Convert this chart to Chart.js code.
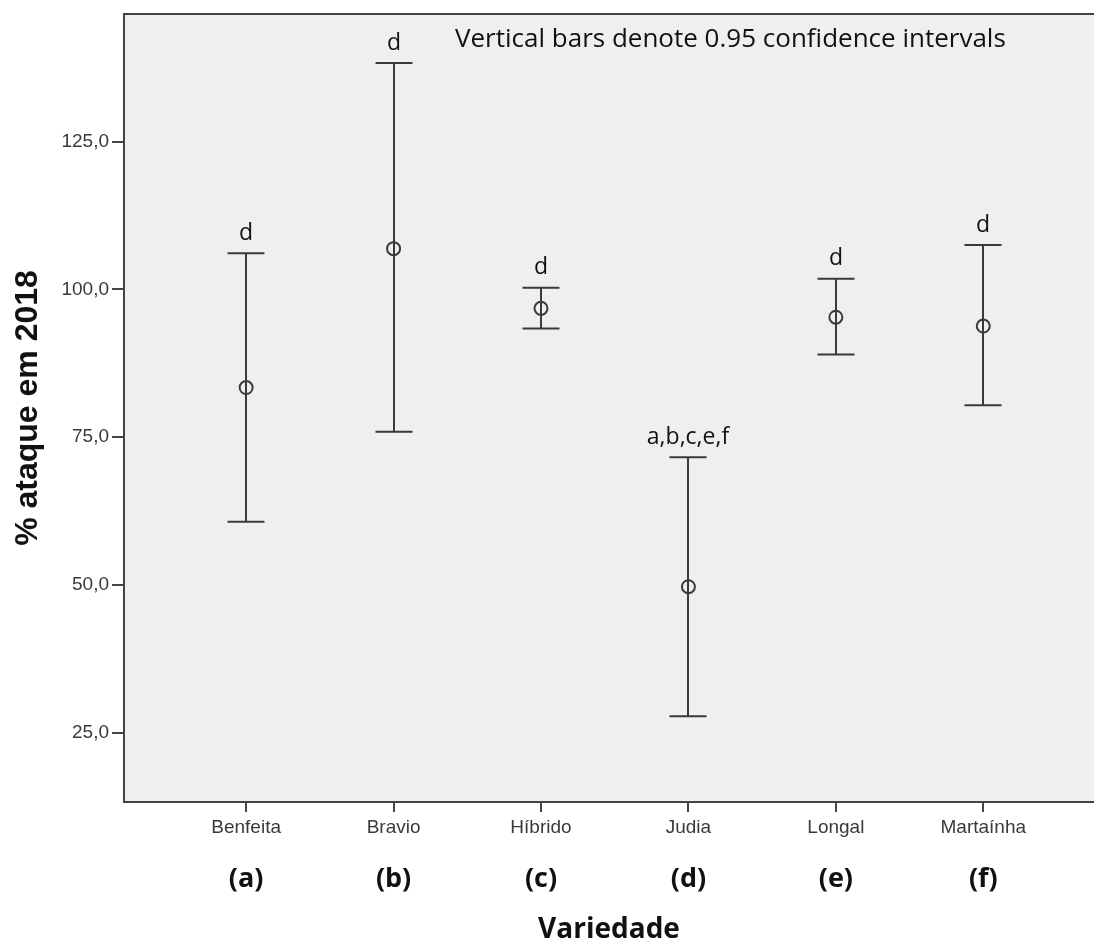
<!DOCTYPE html>
<html><head><meta charset="utf-8">
<script src="https://cdn.jsdelivr.net/npm/chart.js@4.4.0/dist/chart.umd.min.js"></script>
<style>html,body{margin:0;padding:0;background:#fff;} canvas{display:block;}</style>
</head><body>
<canvas id="c" width="1094" height="947"></canvas>
<script>
const categories = ['Benfeita', 'Bravio', 'Híbrido', 'Judia', 'Longal', 'Martaínha'];
const groupLetters = ['(a)', '(b)', '(c)', '(d)', '(e)', '(f)'];
const meanValues = [83.4, 106.9, 96.8, 49.7, 95.3, 93.8];
const lowerCI = [60.7, 75.9, 93.4, 27.8, 89.0, 80.4];
const upperCI = [106.1, 138.3, 100.3, 71.6, 101.8, 107.5];
const sigLabels = ['d', 'd', 'd', 'a,b,c,e,f', 'd', 'd'];
const yTickValues = [25, 50, 75, 100, 125];
const yRange = [13.27, 146.6];
const xRange = [0.1715, 6.751];

const INK = '#3a3a3a';
const AXIS = '#444444';

const points = meanValues.map((v, i) => ({ x: i + 1, y: v }));

const decor = {
  id: 'decor',
  beforeDraw(chart) {
    const { ctx, chartArea: a } = chart;
    ctx.save();
    ctx.fillStyle = '#efefef';
    ctx.fillRect(a.left, a.top, a.right - a.left, a.bottom - a.top);
    ctx.restore();
  },
  beforeDatasetsDraw(chart) {
    const { ctx } = chart;
    const xs = chart.scales.x, ys = chart.scales.y;
    ctx.save();
    ctx.strokeStyle = INK;
    ctx.lineWidth = 2;
    ctx.lineCap = 'butt';
    const half = 18.5;
    categories.forEach((c, i) => {
      const x = Math.round(xs.getPixelForValue(i + 1));
      const yt = ys.getPixelForValue(upperCI[i]);
      const yb = ys.getPixelForValue(lowerCI[i]);
      ctx.beginPath();
      ctx.moveTo(x, yt); ctx.lineTo(x, yb);
      ctx.moveTo(x - half, yt); ctx.lineTo(x + half, yt);
      ctx.moveTo(x - half, yb); ctx.lineTo(x + half, yb);
      ctx.stroke();
      ctx.fillStyle = '#111';
      ctx.font = '23px "Open Sans"';
      ctx.textAlign = 'center';
      ctx.textBaseline = 'middle';
      ctx.fillText(sigLabels[i], x, yt - 20);
    });
    ctx.restore();
  },
  afterDraw(chart) {
    const { ctx, chartArea: a } = chart;
    const xs = chart.scales.x;
    ctx.save();
    ctx.strokeStyle = AXIS;
    ctx.lineWidth = 2;
    ctx.beginPath();
    ctx.moveTo(a.left - 1, a.top);
    ctx.lineTo(a.right, a.top);
    ctx.stroke();
    ctx.fillStyle = '#111';
    ctx.font = '26px "Open Sans"';
    ctx.textAlign = 'left';
    ctx.textBaseline = 'middle';
    ctx.fillText('Vertical bars denote 0.95 confidence intervals', a.left + 331, a.top + 26);
    ctx.font = 'bold 27px "Open Sans"';
    ctx.textAlign = 'center';
    groupLetters.forEach((g, i) => {
      ctx.fillText(g, xs.getPixelForValue(i + 1), 879);
    });
    ctx.restore();
  }
};

new Chart(document.getElementById('c'), {
  type: 'scatter',
  data: {
    datasets: [{
      data: points,
      pointStyle: 'circle',
      pointRadius: 6.5,
      pointHoverRadius: 6.5,
      borderColor: INK,
      borderWidth: 2,
      backgroundColor: 'rgba(0,0,0,0)'
    }]
  },
  options: {
    responsive: false,
    animation: false,
    events: [],
    layout: { autoPadding: false, padding: { top: 14, right: 0, left: 0, bottom: 0 } },
    plugins: { legend: { display: false }, tooltip: { enabled: false } },
    scales: {
      x: {
        type: 'linear',
        min: xRange[0], max: xRange[1],
        afterBuildTicks(s) { s.ticks = categories.map((c, i) => ({ value: i + 1 })); },
        afterFit(s) { s.height = 145; s.paddingLeft = 0; s.paddingRight = 0; },
        ticks: {
          callback: (v) => categories[Math.round(v) - 1],
          color: INK,
          font: { family: '"Liberation Sans", Arial', size: 19 },
          padding: 4,
          maxRotation: 0,
          autoSkip: false
        },
        grid: { drawOnChartArea: false, drawTicks: true, tickLength: 10, color: AXIS, lineWidth: 2 },
        border: { display: true, color: AXIS, width: 2 },
        title: {
          display: true,
          text: 'Variedade',
          color: '#111',
          font: { family: '"Open Sans"', size: 28, weight: 'bold', lineHeight: 1.2 },
          padding: { top: 0, bottom: 0 }
        }
      },
      y: {
        min: yRange[0], max: yRange[1],
        afterBuildTicks(s) { s.ticks = yTickValues.map(v => ({ value: v })); },
        afterFit(s) { s.width = 124; s.paddingTop = 0; s.paddingBottom = 0; },
        ticks: {
          callback: (v) => v.toFixed(1).replace('.', ','),
          color: INK,
          font: { family: '"Liberation Sans", Arial', size: 19, lineHeight: 1 },
          padding: 3
        },
        grid: { drawOnChartArea: false, drawTicks: true, tickLength: 12, color: AXIS, lineWidth: 2 },
        border: { display: true, color: AXIS, width: 2 },
        title: {
          display: true,
          text: '% ataque em 2018',
          color: '#111',
          font: { family: '"Liberation Sans", Arial', size: 32, weight: 'bold', lineHeight: 1.2 },
          padding: { top: 9, bottom: 0 }
        }
      }
    }
  },
  plugins: [decor]
});
</script>
</body></html>
